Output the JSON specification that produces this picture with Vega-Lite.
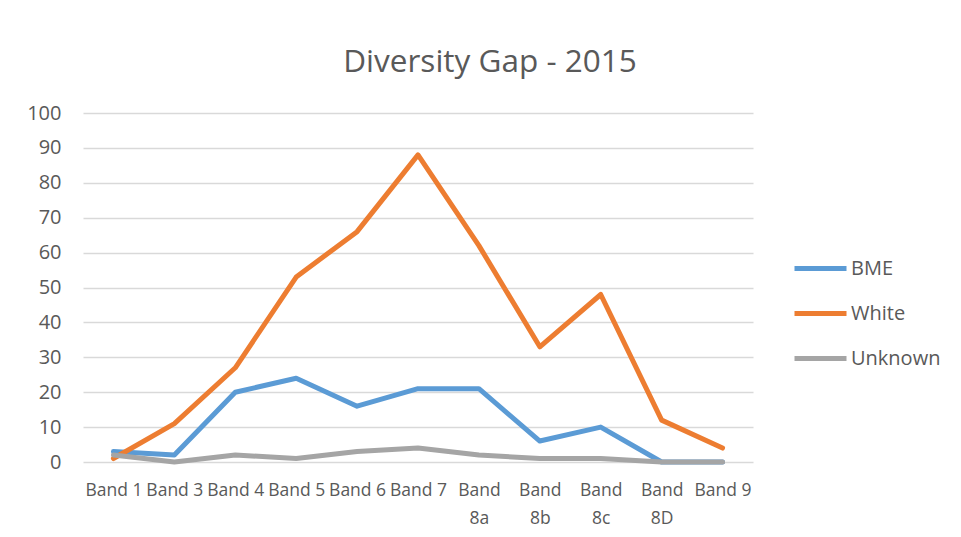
{
  "$schema": "https://vega.github.io/schema/vega-lite/v6.json",
  "autosize": "none",
  "width": 670,
  "height": 349,
  "padding": {"left": 83, "top": 113, "right": 208, "bottom": 75},
  "background": "white",
  "title": {
    "text": "Diversity Gap - 2015",
    "font": "Open Sans",
    "fontSize": 31.5,
    "fontWeight": "normal",
    "color": "#595959",
    "anchor": "middle",
    "dx": 72,
    "offset": 25
  },
  "data": {
    "values": [
      {"band": "Band 1", "series": "BME", "value": 3},
      {"band": "Band 3", "series": "BME", "value": 2},
      {"band": "Band 4", "series": "BME", "value": 20},
      {"band": "Band 5", "series": "BME", "value": 24},
      {"band": "Band 6", "series": "BME", "value": 16},
      {"band": "Band 7", "series": "BME", "value": 21},
      {"band": "Band 8a", "series": "BME", "value": 21},
      {"band": "Band 8b", "series": "BME", "value": 6},
      {"band": "Band 8c", "series": "BME", "value": 10},
      {"band": "Band 8D", "series": "BME", "value": 0},
      {"band": "Band 9", "series": "BME", "value": 0},
      {"band": "Band 1", "series": "White", "value": 1},
      {"band": "Band 3", "series": "White", "value": 11},
      {"band": "Band 4", "series": "White", "value": 27},
      {"band": "Band 5", "series": "White", "value": 53},
      {"band": "Band 6", "series": "White", "value": 66},
      {"band": "Band 7", "series": "White", "value": 88},
      {"band": "Band 8a", "series": "White", "value": 62},
      {"band": "Band 8b", "series": "White", "value": 33},
      {"band": "Band 8c", "series": "White", "value": 48},
      {"band": "Band 8D", "series": "White", "value": 12},
      {"band": "Band 9", "series": "White", "value": 4},
      {"band": "Band 1", "series": "Unknown", "value": 2},
      {"band": "Band 3", "series": "Unknown", "value": 0},
      {"band": "Band 4", "series": "Unknown", "value": 2},
      {"band": "Band 5", "series": "Unknown", "value": 1},
      {"band": "Band 6", "series": "Unknown", "value": 3},
      {"band": "Band 7", "series": "Unknown", "value": 4},
      {"band": "Band 8a", "series": "Unknown", "value": 2},
      {"band": "Band 8b", "series": "Unknown", "value": 1},
      {"band": "Band 8c", "series": "Unknown", "value": 1},
      {"band": "Band 8D", "series": "Unknown", "value": 0},
      {"band": "Band 9", "series": "Unknown", "value": 0}
    ]
  },
  "mark": {"type": "line", "strokeWidth": 5, "strokeCap": "round", "strokeJoin": "round"},
  "encoding": {
    "x": {
      "field": "band",
      "type": "ordinal",
      "sort": null,
      "scale": {"type": "point", "padding": 0.5},
      "axis": {
        "title": null,
        "labelAngle": 0,
        "ticks": false,
        "domain": false,
        "grid": false,
        "labelFont": "Open Sans",
        "labelFontSize": 17.5,
        "labelColor": "#595959",
        "labelPadding": 28,
        "labelLineHeight": 28,
        "labelBaseline": "middle",
        "labelExpr": "indexof(['Band 8a','Band 8b','Band 8c','Band 8D'], datum.value) >= 0 ? split(datum.value, ' ') : datum.value"
      }
    },
    "y": {
      "field": "value",
      "type": "quantitative",
      "scale": {"domain": [0, 100], "nice": false},
      "axis": {
        "title": null,
        "values": [0, 10, 20, 30, 40, 50, 60, 70, 80, 90, 100],
        "ticks": false,
        "domain": false,
        "grid": true,
        "gridColor": "#D9D9D9",
        "gridWidth": 1.3,
        "labelFont": "Open Sans",
        "labelFontSize": 20,
        "labelColor": "#595959",
        "labelPadding": 22
      }
    },
    "color": {
      "field": "series",
      "type": "nominal",
      "sort": ["BME", "White", "Unknown"],
      "scale": {"domain": ["BME", "White", "Unknown"], "range": ["#5B9BD5", "#ED7D31", "#A5A5A5"]},
      "legend": {
        "title": null,
        "orient": "none",
        "legendX": 709,
        "legendY": 143,
        "padding": 0,
        "symbolType": "stroke",
        "symbolSize": 2704,
        "symbolStrokeWidth": 5,
        "clipHeight": 25,
        "rowPadding": 20,
        "labelOffset": 2,
        "labelFont": "Open Sans",
        "labelFontSize": 20,
        "labelColor": "#595959"
      }
    }
  },
  "config": {"view": {"stroke": null}}
}
